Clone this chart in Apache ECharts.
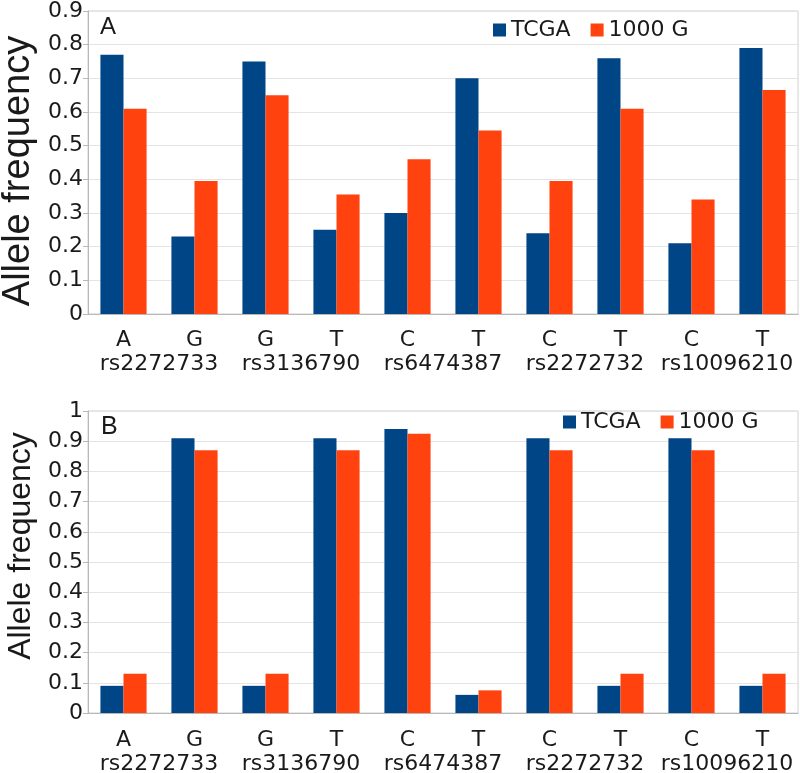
<!DOCTYPE html>
<html>
<head>
<meta charset="utf-8">
<script src="https://cdn.jsdelivr.net/npm/echarts@6/dist/echarts.min.js"></script>
<style>
  html, body { margin: 0; padding: 0; background: #fff; }
  #chart { width: 800px; height: 773px; }
</style>
</head>
<body>
<div id="chart"></div>
<script>
// allele / SNP labels (same for both panels)
const alleles = ['A', 'G', 'G', 'T', 'C', 'T', 'C', 'T', 'C', 'T'];
const snps = ['rs2272733', 'rs3136790', 'rs6474387', 'rs2272732', 'rs10096210'];

// panel A
const tcgaA = [0.77, 0.23, 0.75, 0.25, 0.30, 0.70, 0.24, 0.76, 0.21, 0.79];
const kgA = [0.61, 0.395, 0.65, 0.355, 0.46, 0.545, 0.395, 0.61, 0.34, 0.665];

// panel B
const tcgaB = [0.09, 0.91, 0.09, 0.91, 0.94, 0.06, 0.91, 0.09, 0.91, 0.09];
const kgB = [0.13, 0.87, 0.13, 0.87, 0.925, 0.075, 0.87, 0.13, 0.87, 0.13];

const BLUE = '#004586';
const ORANGE = '#ff420e';
const LINE = '#b8b8b8';
const TXT = '#1a1a1a';
const FONT = 'DejaVu Sans';

const chart = echarts.init(document.getElementById('chart'));

function alleleAxis(grid, margin) {
  return {
    gridIndex: grid, type: 'category', data: alleles, position: 'bottom',
    axisLine: { lineStyle: { color: LINE } },
    axisTick: { length: 30, interval: 0, lineStyle: { color: LINE } },
    axisLabel: { margin: margin, fontSize: 22, color: TXT, fontFamily: FONT, interval: 0 }
  };
}
function snpAxis(grid, margin) {
  return {
    gridIndex: grid, type: 'category', data: snps, position: 'bottom',
    axisLine: { lineStyle: { color: LINE } },
    axisTick: { length: 55, interval: 0, lineStyle: { color: LINE } },
    axisLabel: { margin: margin, fontSize: 22, color: TXT, fontFamily: FONT, interval: 0 }
  };
}
function valueAxis(grid, max, nameSize, gap, pad) {
  return {
    gridIndex: grid, type: 'value', min: 0, max: max, interval: 0.1,
    name: 'Allele frequency', nameLocation: 'middle', nameGap: gap,
    nameTextStyle: { fontSize: nameSize, color: TXT, fontFamily: 'Liberation Sans', padding: pad },
    axisLine: { show: true, lineStyle: { color: LINE } },
    axisTick: { show: true, length: 5, lineStyle: { color: LINE } },
    splitLine: { lineStyle: { color: '#e4e4e4' } },
    axisLabel: { margin: 5, fontSize: 22, color: TXT, fontFamily: FONT }
  };
}
function bars(name, data, color, xi, yi) {
  return {
    name: name, type: 'bar', data: data, xAxisIndex: xi, yAxisIndex: yi,
    barGap: '0%', barCategoryGap: '35%',
    itemStyle: { color: color }
  };
}

const legendBase = {
  orient: 'horizontal', icon: 'rect', itemWidth: 13, itemHeight: 13, itemGap: 20,
  padding: 0,
  textStyle: { fontSize: 22, color: TXT, fontFamily: FONT },
  data: ['TCGA', '1000 G']
};

chart.setOption({
  animation: false,
  title: [
    { text: 'A', left: 100, top: 15, padding: 0,
      textStyle: { fontSize: 24, fontWeight: 'normal', color: TXT, fontFamily: 'Liberation Sans' } },
    { text: 'B', left: 101, top: 415, padding: 0,
      textStyle: { fontSize: 25, fontWeight: 'normal', color: TXT, fontFamily: 'Liberation Sans' } }
  ],
  legend: [
    Object.assign({}, legendBase, { left: 493, top: 19 }),
    Object.assign({}, legendBase, { left: 563, top: 411 })
  ],
  grid: [
    { left: 88, top: 11, width: 710, height: 303, show: true, borderColor: '#d0d0d0',
      containLabel: false, outerBoundsMode: 'none' },
    { left: 88, top: 411, width: 710, height: 302, show: true, borderColor: '#d0d0d0',
      containLabel: false, outerBoundsMode: 'none' }
  ],
  xAxis: [alleleAxis(0, 15), snpAxis(0, 39), alleleAxis(1, 16), snpAxis(1, 40)],
  yAxis: [valueAxis(0, 0.9, 38, 50, [0, 17, 0, 0]), valueAxis(1, 1, 32, 51, [0, 0, 0, 32])],
  series: [
    bars('TCGA', tcgaA, BLUE, 0, 0),
    bars('1000 G', kgA, ORANGE, 0, 0),
    bars('TCGA', tcgaB, BLUE, 2, 1),
    bars('1000 G', kgB, ORANGE, 2, 1)
  ]
});
</script>
</body>
</html>
